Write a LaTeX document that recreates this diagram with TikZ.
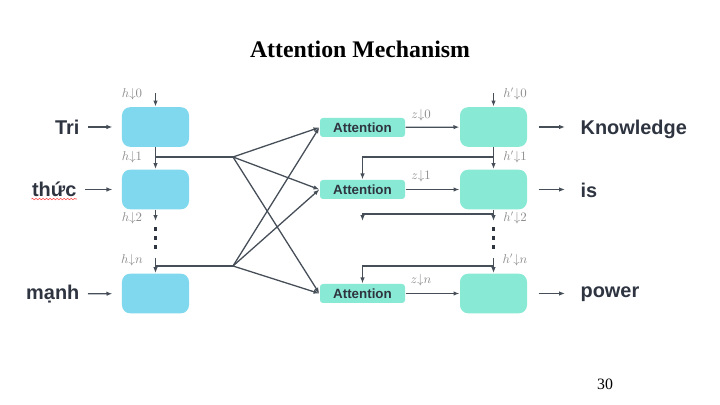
\documentclass[tikz,border=0pt]{standalone}
\usepackage{fontspec}
\setmainfont{Liberation Sans}
\newfontfamily\titlefont{Liberation Serif}
\usetikzlibrary{arrows.meta}
\usetikzlibrary{calc}
\usetikzlibrary{decorations.pathmorphing}
\definecolor{encblue}{RGB}{128,216,238}
\definecolor{decmint}{RGB}{136,233,212}
\definecolor{wire}{RGB}{70,78,88}
\definecolor{ink}{RGB}{46,52,64}
\definecolor{hgray}{RGB}{140,140,140}
\tikzstyle{cell} = [rectangle, rounded corners=7pt, minimum width=2.01cm,
                    minimum height=1.19cm, inner sep=0pt]
\tikzstyle{enc} = [cell, fill=encblue]
\tikzstyle{dec} = [cell, fill=decmint]
\tikzstyle{attn} = [rectangle, fill=decmint, rounded corners=2.5pt,
                    minimum width=2.55cm, minimum height=0.57cm, inner sep=0pt,
                    font=\fontsize{11.4}{13}\selectfont\bfseries, text=ink]
\tikzstyle{word} = [inner sep=0pt, font=\fontsize{17}{19}\selectfont\bfseries, text=ink]
\tikzstyle{hlab} = [inner sep=0pt, text=hgray, font=\fontsize{10.5}{12}\selectfont]
\tikzstyle{dot} = [fill=ink, minimum width=0.1cm, minimum height=0.13cm, inner sep=0pt]
\tikzstyle{feed} = [->, shorten <=0.24cm, shorten >=0.27cm]

\begin{document}
\begin{tikzpicture}[x=0.03cm, y=-0.03cm, wire, line width=1.1pt,
                    >={Latex[length=5pt,width=3.8pt]}]

% background
\useasboundingbox (0,0) rectangle (720,405);
\fill[white] (0,0) rectangle (720,405);

% title and page number
\node[inner sep=0pt, text=black] (title) at (360,49)
     {\titlefont\fontsize{20.3}{22}\selectfont\bfseries Attention Mechanism};
\node[inner sep=0pt, text=black] (page) at (605,384)
     {\titlefont\fontsize{13.5}{15}\selectfont 30};

% encoder cells
\node[enc] (enc0) at (155.5,127) {};
\node[enc] (enc1) at (155.5,189.5) {};
\node[enc] (encn) at (155.5,293.5) {};

% attention cells
\node[attn] (att0) at (362.5,127.5) {Attention};
\node[attn] (att1) at (362.5,189.5) {Attention};
\node[attn] (attn) at (362.5,293.5) {Attention};

% decoder cells
\node[dec] (dec0) at (493.5,127) {};
\node[dec] (dec1) at (493.5,189.5) {};
\node[dec] (decn) at (493.5,293.5) {};

% input and output words
\node[word, anchor=east] (tri)  at (80,127) {Tri};
\node[word, anchor=east] (thuc) at (77,189) {thức};
\node[word, anchor=east] (manh) at (80,294) {mạnh};
\node[word, anchor=west] (know)  at (580,129) {Knowledge};
\node[word, anchor=west] (is)    at (580,190) {is};
\node[word, anchor=west] (power) at (580,294) {power};
\draw[red!70, line width=0.5pt, decorate,
      decoration={snake, amplitude=0.6pt, segment length=3pt}]
     ($(thuc.south west)+(0,2)$) -- ($(thuc.south east)+(0,2)$);

% hidden state labels
\node[hlab] (h0) at (132,94)  {$h{\downarrow}0$};
\node[hlab] (h1) at (132,157) {$h{\downarrow}1$};
\node[hlab] (h2) at (132,218) {$h{\downarrow}2$};
\node[hlab] (hn) at (132,260) {$h{\downarrow}n$};
\node[hlab] (g0) at (515,94)  {$h'{\downarrow}0$};
\node[hlab] (g1) at (515,157) {$h'{\downarrow}1$};
\node[hlab] (g2) at (515,218) {$h'{\downarrow}2$};
\node[hlab] (gn) at (515,260) {$h'{\downarrow}n$};
\node[hlab] (z0) at (421,115) {$z{\downarrow}0$};
\node[hlab] (z1) at (421,176) {$z{\downarrow}1$};
\node[hlab] (zn) at (421,280) {$z{\downarrow}n$};

% dots
\foreach \y in {229,238,247} {
  \node[dot] at (155.5,\y) {};
  \node[dot] at (493.5,\y) {};
}

% free ends
\coordinate (encin)  at (155.5,93);
\coordinate (encout) at (155.5,221);
\coordinate (encre)  at (155.5,258);
\coordinate (decin)  at (493.5,93);
\coordinate (decout) at (493.5,221);
\coordinate (decre)  at (493.5,258);
\coordinate (j1) at (233,157);
\coordinate (jn) at (233,266);
\coordinate (k1) at (493.5,157);
\coordinate (k2) at (493.5,214);
\coordinate (kn) at (493.5,266);
\coordinate (t2) at (362.5,221);

% add connections
\draw[feed] (tri) -- (enc0);
\draw[feed] (thuc.east |- enc1) -- (enc1);
\draw[feed] (manh) -- (encn);
\draw[->] (encin) -- (enc0.north);
\draw[->] (enc0) -- (enc1);
\draw[->] (enc1.south) -- (encout);
\draw[->] (encre) -- (encn.north);
\draw (enc0.south |- j1) -- (j1);
\draw (encn.north |- jn) -- (jn);

\draw[->] (j1) -- (att0.west);
\draw[->] (j1) -- (att1.west);
\draw[->] (j1) -- (attn.west);
\draw[->] (jn) -- (att0.west);
\draw[->] (jn) -- (att1.west);
\draw[->] (jn) -- (attn.west);

\draw[->] (att0) -- (dec0);
\draw[->] (att1) -- (dec1);
\draw[->] (attn) -- (decn);

\draw[->] (decin) -- (dec0.north);
\draw[->] (dec0) -- (dec1);
\draw[->] (dec1.south) -- (decout);
\draw[->] (decre) -- (decn.north);
\draw[->] (k1) -| (att1.north);
\draw[->] (k2) -| (t2);
\draw[->] (kn) -| (attn.north);

\draw[->, shorten <=0.33cm, shorten >=0.45cm] (dec0.east) -- (know.west |- dec0);
\draw[->, shorten <=0.33cm, shorten >=0.45cm] (dec1.east) -- (is.west |- dec1);
\draw[->, shorten <=0.33cm, shorten >=0.45cm] (decn.east) -- (power.west |- decn);

\end{tikzpicture}
\end{document}
